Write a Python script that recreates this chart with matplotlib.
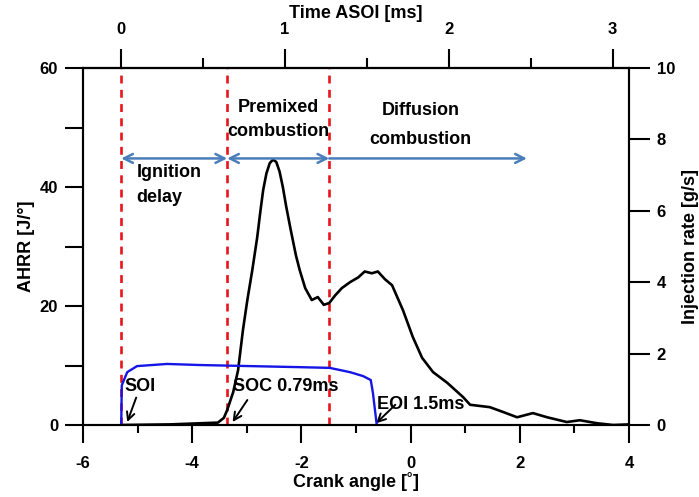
import matplotlib
matplotlib.use('Agg')
import matplotlib.pyplot as plt
from matplotlib.ticker import MultipleLocator, FixedLocator

plt.rcParams['font.family'] = ['Liberation Sans', 'DejaVu Sans']
plt.rcParams['font.weight'] = 'bold'
plt.rcParams['axes.labelweight'] = 'bold'
plt.rcParams['axes.unicode_minus'] = False

# apparent heat release rate [J/deg] vs crank angle [deg]
crank = [-5.30, -4.41, -3.53, -3.42, -3.36, -3.25, -3.16, -3.07, -2.99, -2.90,
         -2.81, -2.75, -2.70, -2.64, -2.58, -2.52, -2.46, -2.40, -2.34, -2.28,
         -2.20, -2.10, -2.03, -1.93, -1.81, -1.70, -1.59, -1.49, -1.38, -1.26,
         -1.11, -0.96, -0.84, -0.71, -0.60, -0.47, -0.34, -0.14, 0.04, 0.21,
         0.41, 0.67, 0.96, 1.09, 1.45, 1.69, 1.95, 2.24, 2.50, 2.86,
         3.10, 3.41, 3.71, 4.00]
ahrr = [0.0, 0.1, 0.4, 1.2, 2.5, 5.5, 9.2, 16.0, 21.0, 26.0,
        31.5, 36.0, 39.5, 42.3, 44.0, 44.6, 44.2, 42.6, 40.0, 36.8,
        33.0, 28.5, 26.0, 23.0, 21.0, 21.5, 20.2, 20.5, 21.8, 23.0,
        24.0, 24.8, 25.8, 25.5, 25.8, 24.5, 23.5, 19.3, 14.8, 11.3,
        8.9, 7.1, 4.7, 3.4, 3.0, 2.2, 1.3, 2.0, 1.3, 0.5,
        0.8, 0.3, 0.0, 0.1]

# injection rate [g/s]
inj_crank = [-5.30, -5.29, -5.28, -5.19, -5.01, -4.46, -3.86, -2.03, -1.48,
             -1.11, -0.87, -0.73, -0.69, -0.62]
inj_rate = [0.0, 1.10, 1.15, 1.48, 1.65, 1.71, 1.68, 1.62, 1.60,
            1.48, 1.37, 1.26, 0.90, 0.0]

soi = -5.30          # start of injection
soc = -3.36          # start of combustion
premix_end = -1.49
diff_end = 2.13
deg_per_ms = 3.0

fig = plt.figure(figsize=(6.99, 4.97), dpi=100)
ax = fig.add_axes([83 / 699, 72 / 497, 546 / 699, 357 / 497])

for x in (soi, soc, premix_end):
    ax.plot([x, x], [0, 60], color='#e8141c', lw=1.9, dashes=(3.0, 2.4), zorder=1)

ax.plot(crank, ahrr, color='black', lw=1.9, zorder=3)
ax.set_xlim(-6, 4)
ax.set_ylim(0, 60)

ax2 = ax.twinx()
ax2.plot(inj_crank, inj_rate, color='#1515e6', lw=1.7, zorder=2)
ax2.set_ylim(0, 10)

# phase arrows
arrow_col = '#4a7ebb'
ay = 44.8
for a, b, style in ((soi, soc, '<->'), (soc, premix_end, '<->'), (premix_end, diff_end, '<-')):
    ax.annotate('', xy=(a, ay), xytext=(b, ay),
                arrowprops=dict(arrowstyle=style, color=arrow_col, lw=1.8,
                                mutation_scale=16, shrinkA=0, shrinkB=0))

fs = 13
ax.text(-5.02, 42.4, 'Ignition', fontsize=fs, va='center', ha='left')
ax.text(-5.02, 38.2, 'delay', fontsize=fs, va='center', ha='left')
ax.text(-2.42, 53.4, 'Premixed', fontsize=fs, va='center', ha='center')
ax.text(-2.42, 49.4, 'combustion', fontsize=fs, va='center', ha='center')
ax.text(0.18, 52.9, 'Diffusion', fontsize=fs, va='center', ha='center')
ax.text(0.18, 47.9, 'combustion', fontsize=fs, va='center', ha='center')

ann = dict(arrowstyle='->', color='black', lw=1.4, mutation_scale=14, shrinkA=0, shrinkB=0)
ax.annotate('SOI', xy=(-5.19, 0.5), xytext=(-4.95, 6.5), fontsize=fs, ha='center', va='center',
            arrowprops=ann)
ax.annotate('', xy=(-3.26, 0.5), xytext=(-2.99, 4.2), arrowprops=ann)
ax.text(-3.25, 6.4, 'SOC 0.79ms', fontsize=fs, ha='left', va='center')
ax.annotate('', xy=(-0.63, 0.3), xytext=(-0.28, 3.4), arrowprops=ann)
ax.text(-0.61, 3.4, 'EOI 1.5ms', fontsize=fs, ha='left', va='center')

# ticks
ax.xaxis.set_major_locator(MultipleLocator(2))
ax.xaxis.set_minor_locator(MultipleLocator(1))
ax.yaxis.set_major_locator(MultipleLocator(20))
ax.yaxis.set_minor_locator(MultipleLocator(10))
ax2.yaxis.set_major_locator(MultipleLocator(2))
ax.tick_params(axis='x', which='major', direction='out', length=13, width=1.5, pad=9, labelsize=12)
ax.tick_params(axis='x', which='minor', direction='out', length=6, width=1.5)
ax.tick_params(axis='y', which='both', direction='out', length=13, width=1.5, pad=5, labelsize=12)
ax2.tick_params(axis='y', direction='out', length=15, width=1.5, pad=5, labelsize=12)

top = ax.secondary_xaxis('top', functions=(lambda c: (c - soi) / deg_per_ms,
                                           lambda t: t * deg_per_ms + soi))
top.xaxis.set_major_locator(FixedLocator([0, 1, 2, 3]))
top.xaxis.set_minor_locator(FixedLocator([0.5, 1.5, 2.5]))
top.tick_params(which='major', direction='out', length=14, width=1.5, pad=8, labelsize=12)
top.tick_params(which='minor', direction='out', length=7, width=1.5)
top.set_xlabel('Time ASOI [ms]', fontsize=13, labelpad=3)

for a in (ax, ax2):
    for s in a.spines.values():
        s.set_linewidth(1.5)
top.spines['top'].set_linewidth(1.5)

ax.set_xlabel('Crank angle [˚]', fontsize=13, labelpad=1)
ax.set_ylabel('AHRR [J/°]', fontsize=13, labelpad=3)
ax2.set_ylabel('Injection rate [g/s]', fontsize=13, labelpad=5)

fig.savefig('out.png', dpi=100)
